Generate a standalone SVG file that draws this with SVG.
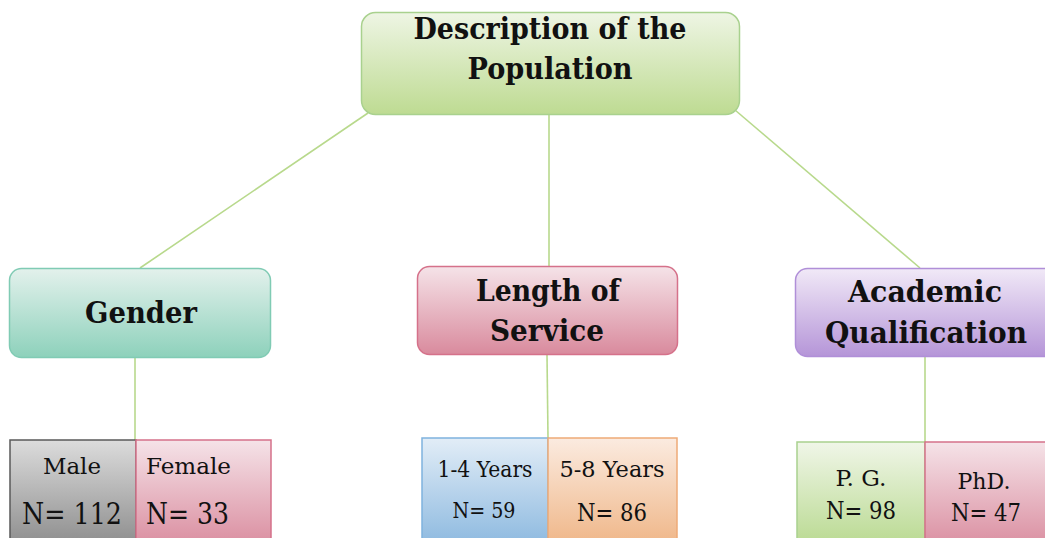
<svg xmlns="http://www.w3.org/2000/svg" width="1045" height="538" viewBox="0 0 1045 538">
<defs>
<linearGradient id="gGreen" x1="0" y1="0" x2="0" y2="1"><stop offset="0" stop-color="#eef5e4"/><stop offset="1" stop-color="#bedb92"/></linearGradient>
<linearGradient id="gTeal" x1="0" y1="0" x2="0" y2="1"><stop offset="0" stop-color="#e3f1ec"/><stop offset="1" stop-color="#8dd1bb"/></linearGradient>
<linearGradient id="gPink" x1="0" y1="0" x2="0" y2="1"><stop offset="0" stop-color="#f5e3e8"/><stop offset="1" stop-color="#d98a9d"/></linearGradient>
<linearGradient id="gPurple" x1="0" y1="0" x2="0" y2="1"><stop offset="0" stop-color="#f1e9f7"/><stop offset="1" stop-color="#b595d8"/></linearGradient>
<linearGradient id="gGray" x1="0" y1="0" x2="0" y2="1"><stop offset="0" stop-color="#dcdcdc"/><stop offset="1" stop-color="#8a8a8a"/></linearGradient>
<linearGradient id="gBlue" x1="0" y1="0" x2="0" y2="1"><stop offset="0" stop-color="#e2edf7"/><stop offset="1" stop-color="#8bb8df"/></linearGradient>
<linearGradient id="gOrange" x1="0" y1="0" x2="0" y2="1"><stop offset="0" stop-color="#fbebe0"/><stop offset="1" stop-color="#efb586"/></linearGradient>
<linearGradient id="gLGreen" x1="0" y1="0" x2="0" y2="1"><stop offset="0" stop-color="#f0f6e8"/><stop offset="1" stop-color="#b6d88c"/></linearGradient>
</defs>
<style>
.conn line{stroke:#b8d98c;stroke-width:1.6;fill:none}
.hdr{font-family:"DejaVu Serif","Liberation Serif",serif;font-weight:bold;font-size:29px;fill:#111;text-anchor:middle}
.lbl{font-family:"DejaVu Serif","Liberation Serif",serif;font-size:22px;fill:#111}
.num{font-family:"DejaVu Serif","Liberation Serif",serif;font-size:29px;fill:#111}
.mid{font-family:"DejaVu Serif","Liberation Serif",serif;font-size:24px;fill:#111}
.c{text-anchor:middle}
</style>
<g class="conn" id="connectors">
<line x1="368" y1="113" x2="140" y2="268"/>
<line x1="549" y1="115" x2="549" y2="266"/>
<line x1="735" y1="110" x2="920" y2="268"/>
<line x1="135" y1="358" x2="135" y2="440"/>
<line x1="547" y1="355" x2="548" y2="438"/>
<line x1="925" y1="357" x2="925" y2="442"/>
</g>
<g id="root">
<rect x="361.5" y="12.5" width="378" height="102" rx="14" fill="url(#gGreen)" stroke="#a9d18e" stroke-width="1.5"/>
<text class="hdr" x="550" y="39" textLength="273" lengthAdjust="spacingAndGlyphs">Description of the</text>
<text class="hdr" x="550" y="79" textLength="165" lengthAdjust="spacingAndGlyphs">Population</text>
</g>
<g id="gender">
<rect x="9.5" y="268.5" width="261" height="89" rx="12" fill="url(#gTeal)" stroke="#80cbb4" stroke-width="1.5"/>
<text class="hdr" x="141" y="323" textLength="112" lengthAdjust="spacingAndGlyphs">Gender</text>
</g>
<g id="length">
<rect x="417.5" y="266.5" width="260" height="88" rx="12" fill="url(#gPink)" stroke="#d5718a" stroke-width="1.5"/>
<text class="hdr" x="548" y="301" textLength="144" lengthAdjust="spacingAndGlyphs">Length of</text>
<text class="hdr" x="547" y="341" textLength="114" lengthAdjust="spacingAndGlyphs">Service</text>
</g>
<g id="academic">
<rect x="795.5" y="268.5" width="262" height="88" rx="12" fill="url(#gPurple)" stroke="#b08fd8" stroke-width="1.5"/>
<text class="hdr" x="925" y="302" textLength="154" lengthAdjust="spacingAndGlyphs">Academic</text>
<text class="hdr" x="926" y="343" textLength="202" lengthAdjust="spacingAndGlyphs">Qualification</text>
</g>
<g id="male">
<rect x="10" y="440" width="126" height="110" fill="url(#gGray)" stroke="#5a5a5a" stroke-width="1.5"/>
<text class="lbl c" x="72" y="474" textLength="58" lengthAdjust="spacingAndGlyphs">Male</text>
<text class="num c" x="72" y="524" textLength="100" lengthAdjust="spacingAndGlyphs">N= 112</text>
</g>
<g id="female">
<rect x="136" y="440" width="135" height="110" fill="url(#gPink)" stroke="#d5718a" stroke-width="1.5"/>
<text class="lbl" x="146" y="474" textLength="85" lengthAdjust="spacingAndGlyphs">Female</text>
<text class="num" x="146" y="524" textLength="83" lengthAdjust="spacingAndGlyphs">N= 33</text>
</g>
<g id="y14">
<rect x="422" y="438" width="126" height="110" fill="url(#gBlue)" stroke="#7fb3de" stroke-width="1.5"/>
<text class="lbl c" x="485" y="477" textLength="95" lengthAdjust="spacingAndGlyphs">1-4 Years</text>
<text class="lbl c" x="484" y="518" textLength="63" lengthAdjust="spacingAndGlyphs">N= 59</text>
</g>
<g id="y58">
<rect x="548" y="438" width="129" height="110" fill="url(#gOrange)" stroke="#eeaa77" stroke-width="1.5"/>
<text class="lbl c" x="612" y="477" textLength="105" lengthAdjust="spacingAndGlyphs">5-8 Years</text>
<text class="mid c" x="612" y="521" textLength="70" lengthAdjust="spacingAndGlyphs">N= 86</text>
</g>
<g id="pg">
<rect x="797" y="442" width="128" height="110" fill="url(#gLGreen)" stroke="#a9d18e" stroke-width="1.5"/>
<text class="lbl c" x="861" y="486" textLength="51" lengthAdjust="spacingAndGlyphs">P. G.</text>
<text class="mid c" x="861" y="519" textLength="70" lengthAdjust="spacingAndGlyphs">N= 98</text>
</g>
<g id="phd">
<rect x="925" y="442" width="130" height="110" fill="url(#gPink)" stroke="#d5718a" stroke-width="1.5"/>
<text class="lbl c" x="984" y="489" textLength="53" lengthAdjust="spacingAndGlyphs">PhD.</text>
<text class="mid c" x="986" y="521" textLength="70" lengthAdjust="spacingAndGlyphs">N= 47</text>
</g>
</svg>
